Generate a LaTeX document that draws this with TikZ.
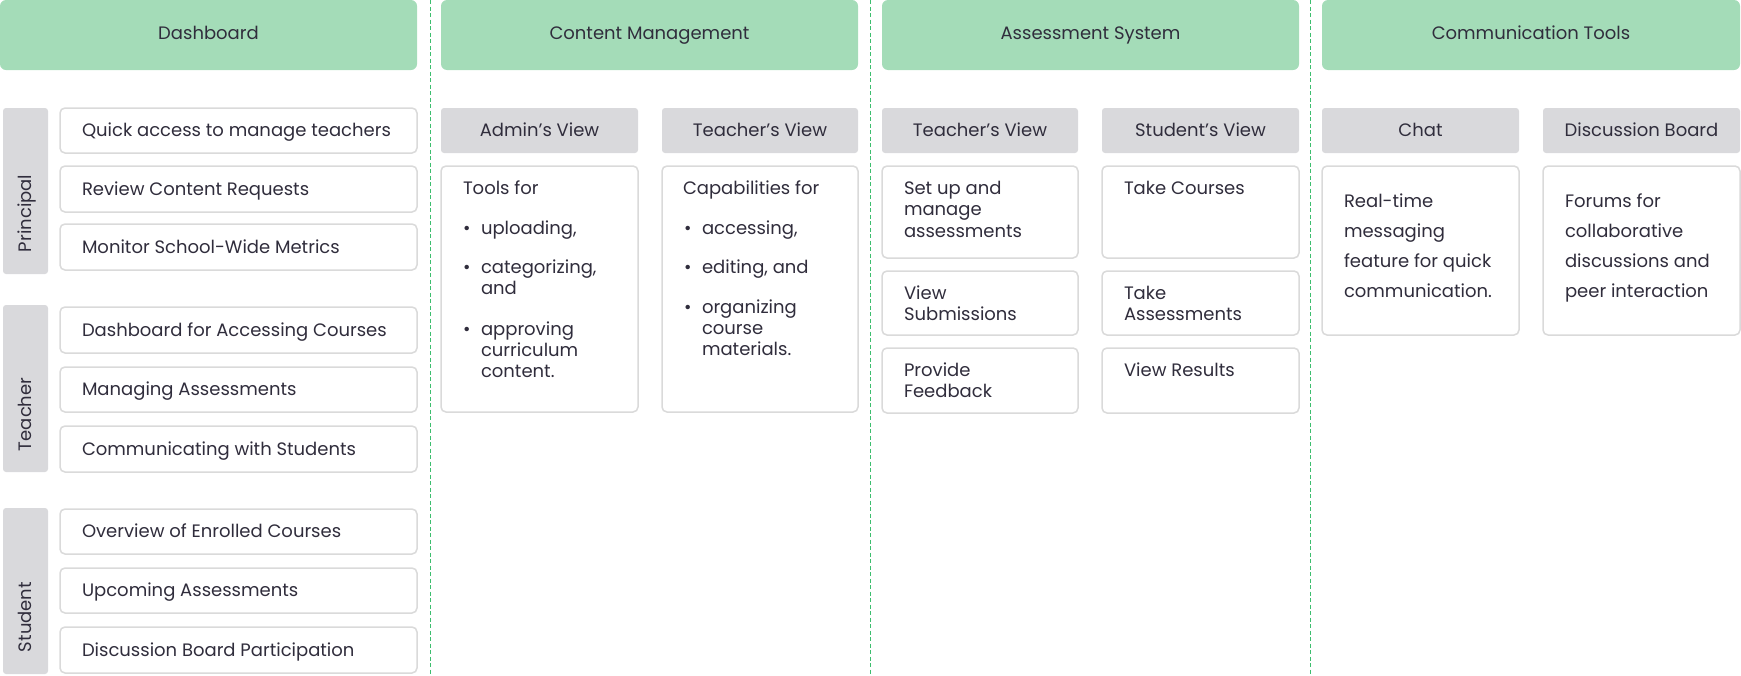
\documentclass[tikz,border=0pt]{standalone}
\usepackage{fontspec}
\setmainfont{Poppins}
\definecolor{hgreen}{RGB}{164,220,184}
\definecolor{sgray}{RGB}{217,217,220}
\definecolor{bgray}{RGB}{218,218,218}
\definecolor{tcol}{RGB}{48,45,60}
\definecolor{dgreen}{RGB}{61,190,110}
\tikzset{
  hdr/.style={fill=hgreen, draw=none, rounded corners=6pt, inner sep=0pt, outer sep=0pt},
  sub/.style={fill=sgray, draw=none, rounded corners=3pt, inner sep=0pt, outer sep=0pt},
  itembox/.style={fill=white, draw=bgray, line width=1.5pt, rounded corners=5pt, inner sep=0pt, outer sep=0pt},
  txt/.style={inner sep=0pt, outer sep=0pt, anchor=base west, text=tcol, font=\fontsize{18}{21}\selectfont},
  ctxt/.style={txt, anchor=base},
  sep/.style={draw=dgreen, line width=1.2pt, dash pattern=on 4pt off 2.5pt}
}
\newcommand\bx[6]{\node[#2, anchor=north west, minimum width={(#5-#3)*1pt}, minimum height={(#6-#4)*1pt}] (#1) at (#3,#4) {};}
\newcommand\tx[4]{\node[txt] (#1) at (#2,#3) {#4};}
\newcommand\ctx[4]{\node[ctxt] (#1) at (#2,#3) {#4};}
\begin{document}
\begin{tikzpicture}[x=1pt,y=-1pt]
\useasboundingbox (0,0) rectangle (1741,675);
% separators
\coordinate (s1a) at (430.5,0); \coordinate (s1b) at (430.5,675);
\coordinate (s2a) at (870.5,0); \coordinate (s2b) at (870.5,675);
\coordinate (s3a) at (1310.5,0); \coordinate (s3b) at (1310.5,675);
\draw[sep] (s1a) -- (s1b);
\draw[sep] (s2a) -- (s2b);
\draw[sep] (s3a) -- (s3b);
% headers
\bx{h1}{hdr}{0}{0}{417}{70}
\bx{h2}{hdr}{441}{0}{858}{70}
\bx{h3}{hdr}{882}{0}{1299}{70}
\bx{h4}{hdr}{1322}{0}{1740}{70}
\ctx{h1t}{208.5}{39}{Dashboard}
\ctx{h2t}{649.5}{39}{Content Management}
\ctx{h3t}{1090.5}{39}{Assessment System}
\ctx{h4t}{1531}{39}{Communication Tools}
% role labels
\bx{rp}{sub}{3}{108}{48}{274}
\bx{rt}{sub}{3}{305}{48}{472}
\bx{rs}{sub}{3}{508}{48}{674}
\node[txt, rotate=90] (rpt) at (31,252) {Principal};
\node[txt, rotate=90] (rtt) at (31,451) {Teacher};
\node[txt, rotate=90] (rst) at (31,652) {Student};
% dashboard items
\bx{p1}{itembox}{60}{108}{417}{153}
\bx{p2}{itembox}{60}{166}{417}{212}
\bx{p3}{itembox}{60}{224}{417}{270}
\bx{t1}{itembox}{60}{307}{417}{353}
\bx{t2}{itembox}{60}{367}{417}{412}
\bx{t3}{itembox}{60}{426}{417}{472}
\bx{u1}{itembox}{60}{509}{417}{554}
\bx{u2}{itembox}{60}{568}{417}{613}
\bx{u3}{itembox}{60}{627}{417}{673}
\tx{p1t}{82}{136.5}{Quick access to manage teachers}
\tx{p2t}{82}{195}{Review Content Requests}
\tx{p3t}{82}{253}{Monitor School-Wide Metrics}
\tx{t1t}{82}{336}{Dashboard for Accessing Courses}
\tx{t2t}{82}{395.5}{Managing Assessments}
\tx{t3t}{82}{455}{Communicating with Students}
\tx{u1t}{82}{537.5}{Overview of Enrolled Courses}
\tx{u2t}{82}{596.5}{Upcoming Assessments}
\tx{u3t}{82}{656}{Discussion Board Participation}
% content management
\bx{cma}{sub}{441}{108}{638}{153}
\bx{cmb}{sub}{662}{108}{858}{153}
\ctx{cmat}{539.5}{136}{Admin’s View}
\ctx{cmbt}{760}{136}{Teacher’s View}
\bx{cmc}{itembox}{441}{166}{638}{412}
\bx{cmd}{itembox}{662}{166}{858}{412}
\tx{a0}{463}{194}{Tools for}
\tx{ab1}{463}{234}{•}
\tx{ab2}{463}{273}{•}
\tx{ab3}{463}{335}{•}
\tx{a1}{481}{234}{uploading,}
\tx{a2}{481}{273}{categorizing,}
\tx{a3}{481}{294}{and}
\tx{a4}{481}{335}{approving}
\tx{a5}{481}{356}{curriculum}
\tx{a6}{481}{377}{content.}
\tx{b0}{683}{194}{Capabilities for}
\tx{bb1}{684}{234}{•}
\tx{bb2}{684}{273}{•}
\tx{bb3}{684}{313}{•}
\tx{b1}{702}{234}{accessing,}
\tx{b2}{702}{273}{editing, and}
\tx{b3}{702}{313}{organizing}
\tx{b4}{702}{334}{course}
\tx{b5}{702}{355}{materials.}
% assessment system
\bx{asa}{sub}{882}{108}{1078}{153}
\bx{asb}{sub}{1102}{108}{1299}{153}
\ctx{asat}{980}{136}{Teacher’s View}
\ctx{asbt}{1200.5}{136}{Student’s View}
\bx{as1}{itembox}{882}{166}{1078}{258}
\bx{as2}{itembox}{882}{271}{1078}{335}
\bx{as3}{itembox}{882}{348}{1078}{413}
\bx{as4}{itembox}{1102}{166}{1299}{258}
\bx{as5}{itembox}{1102}{271}{1299}{335}
\bx{as6}{itembox}{1102}{348}{1299}{413}
\tx{c1}{904}{194}{Set up and}
\tx{c2}{904}{215.5}{manage}
\tx{c3}{904}{237}{assessments}
\tx{c4}{904}{299}{View}
\tx{c5}{904}{320}{Submissions}
\tx{c6}{904}{376}{Provide}
\tx{c7}{904}{397}{Feedback}
\tx{d1}{1124}{194}{Take Courses}
\tx{d2}{1124}{299}{Take}
\tx{d3}{1124}{320}{Assessments}
\tx{d4}{1124}{376}{View Results}
% communication tools
\bx{cta}{sub}{1322}{108}{1519}{153}
\bx{ctb}{sub}{1543}{108}{1740}{153}
\ctx{ctat}{1420.5}{136}{Chat}
\ctx{ctbt}{1641.5}{136}{Discussion Board}
\bx{ctc}{itembox}{1322}{166}{1519}{335}
\bx{ctd}{itembox}{1543}{166}{1740}{335}
\tx{e1}{1344}{207}{Real-time}
\tx{e2}{1344}{237}{messaging}
\tx{e3}{1344}{267}{feature for quick}
\tx{e4}{1344}{297}{communication.}
\tx{f1}{1565}{207}{Forums for}
\tx{f2}{1565}{237}{collaborative}
\tx{f3}{1565}{267}{discussions and}
\tx{f4}{1565}{297}{peer interaction}
\end{tikzpicture}
\end{document}
